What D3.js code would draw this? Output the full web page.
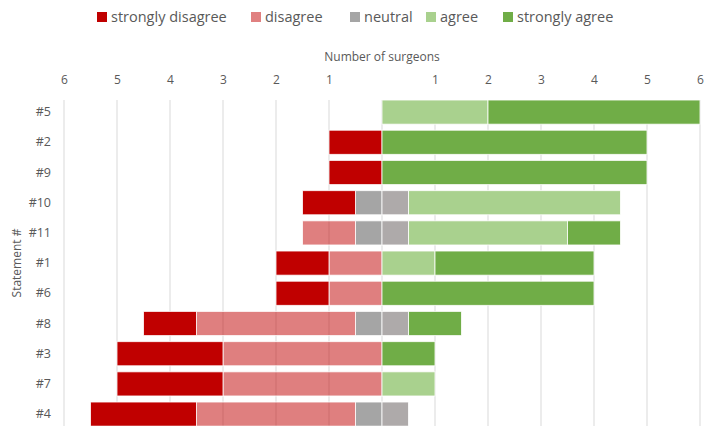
<!DOCTYPE html>
<html>
<head>
<meta charset="utf-8">
<script src="https://cdn.jsdelivr.net/npm/d3@7"></script>
<style>
  body { margin: 0; background: #fff; }
  text { font-family: "Open Sans", "Liberation Sans", sans-serif; fill: #595959; }
</style>
</head>
<body>
<div id="chart"></div>
<script>
// statements, top to bottom
var statements = ["#5", "#2", "#9", "#10", "#11", "#1", "#6", "#8", "#3", "#7", "#4"];

// number of surgeons per answer
var stronglyDisagree = [0, 1, 1, 1, 0, 1, 1, 1, 2, 2, 2];
var disagree         = [0, 0, 0, 0, 1, 1, 1, 3, 3, 3, 3];
var neutral          = [0, 0, 0, 1, 1, 0, 0, 1, 0, 0, 1];
var agree            = [2, 0, 0, 4, 3, 1, 0, 0, 0, 1, 0];
var stronglyAgree    = [4, 5, 5, 0, 1, 3, 4, 1, 1, 0, 0];

var legendLabels = ["strongly disagree", "disagree", "neutral", "agree", "strongly agree"];
var tickValues = [-6, -5, -4, -3, -2, -1, 1, 2, 3, 4, 5, 6];

var width = 705, height = 426;

var svg = d3.select("#chart")
  .append("svg")
    .attr("width", width)
    .attr("height", height);

var x = d3.scaleLinear()
  .domain([-6, 6])
  .range([64, 700]);

var y = d3.scaleBand()
  .domain(statements)
  .range([97, 97 + statements.length * 30.2])
  .paddingInner(0.2)
  .paddingOuter(0.1);

// gridlines
svg.append("g")
  .selectAll("line")
  .data(d3.range(-6, 7))
  .enter()
  .append("line")
    .attr("x1", function(d) { return x(d); })
    .attr("x2", function(d) { return x(d); })
    .attr("y1", 100)
    .attr("y2", height)
    .attr("stroke", "#d9d9d9")
    .attr("stroke-width", 1);

// build segments
var segments = [];
statements.forEach(function(s, i) {
  var halfN = neutral[i] / 2;
  // left side
  var left = 0;
  segments.push({s: s, x0: left - halfN, x1: left, fill: "#a5a5a5", op: 1});
  left -= halfN;
  segments.push({s: s, x0: left - disagree[i], x1: left, fill: "#c00000", op: 0.5});
  left -= disagree[i];
  segments.push({s: s, x0: left - stronglyDisagree[i], x1: left, fill: "#c00000", op: 1});
  // right side
  var right = 0;
  segments.push({s: s, x0: right, x1: right + halfN, fill: "#aeaaaa", op: 1});
  right += halfN;
  segments.push({s: s, x0: right, x1: right + agree[i], fill: "#a9d18e", op: 1});
  right += agree[i];
  segments.push({s: s, x0: right, x1: right + stronglyAgree[i], fill: "#70ad47", op: 1});
});

svg.append("g")
  .selectAll("rect")
  .data(segments.filter(function(d) { return d.x1 > d.x0; }))
  .enter()
  .append("rect")
    .attr("x", function(d) { return x(d.x0); })
    .attr("y", function(d) { return y(d.s); })
    .attr("width", function(d) { return x(d.x1) - x(d.x0); })
    .attr("height", y.bandwidth())
    .attr("fill", function(d) { return d.fill; })
    .attr("fill-opacity", function(d) { return d.op; })
    .attr("stroke", "#fff")
    .attr("stroke-opacity", 0.8)
    .attr("stroke-width", 1);

// top axis
var xAxis = svg.append("g")
  .attr("transform", "translate(0,84)")
  .call(d3.axisTop(x).tickValues(tickValues).tickSize(0).tickPadding(0)
    .tickFormat(function(d) { return Math.abs(d); }));
xAxis.select(".domain").remove();
xAxis.selectAll("text")
  .style("font-size", "12px")
  .style("font-family", "'Open Sans', sans-serif")
  .attr("fill", "#595959");

svg.append("text")
  .attr("x", x(0))
  .attr("y", 61)
  .attr("text-anchor", "middle")
  .style("font-size", "12px")
  .text("Number of surgeons");

// y axis labels
var yAxis = svg.append("g")
  .attr("transform", "translate(51,0)")
  .call(d3.axisLeft(y).tickSize(0).tickPadding(0));
yAxis.select(".domain").remove();
yAxis.selectAll("text")
  .style("font-size", "12.5px")
  .style("font-family", "'Open Sans', sans-serif")
  .attr("fill", "#595959");

svg.append("text")
  .attr("transform", "translate(21,263) rotate(-90)")
  .attr("text-anchor", "middle")
  .style("font-size", "12px")
  .text("Statement #");

// legend
var legendColors = ["#c00000", "#e08080", "#a5a5a5", "#a9d18e", "#70ad47"];
var legendX = [97, 251, 350, 426, 503];
var legend = svg.append("g")
  .selectAll("g")
  .data(legendLabels)
  .enter()
  .append("g")
    .attr("transform", function(d, i) { return "translate(" + legendX[i] + ",12)"; });
legend.append("rect")
  .attr("width", 10)
  .attr("height", 10)
  .attr("fill", function(d, i) { return legendColors[i]; });
legend.append("text")
  .attr("x", 14)
  .attr("y", 10)
  .style("font-size", "14.5px")
  .text(function(d) { return d; });
</script>
</body>
</html>
